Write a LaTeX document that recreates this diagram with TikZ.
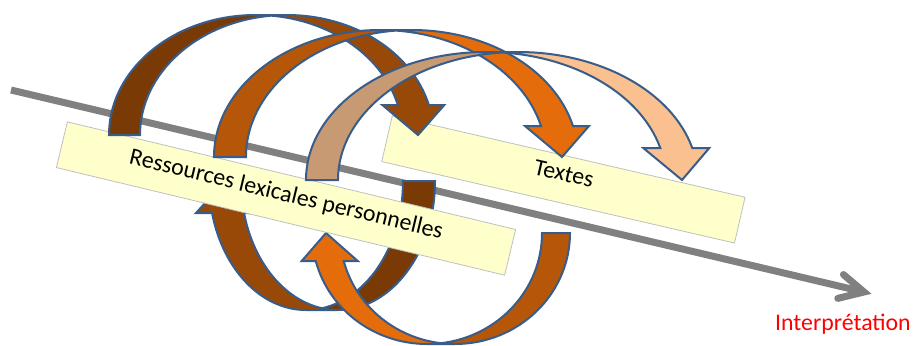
\documentclass[tikz,border=0pt]{standalone}
\usepackage{fontspec}
\setmainfont{Carlito}
\usetikzlibrary{calc}

\definecolor{ribbonline}{HTML}{385D8A}
\definecolor{brownfront}{HTML}{984807}
\definecolor{brownback}{HTML}{7A3A06}
\definecolor{orangefront}{HTML}{E46C0A}
\definecolor{orangeback}{HTML}{B65608}
\definecolor{peachfront}{HTML}{FAC090}
\definecolor{peachback}{HTML}{C89A73}
\definecolor{notefill}{HTML}{FFFFCC}
\definecolor{axisgray}{HTML}{808080}

\newcommand{\labelfont}{\fontsize{23.8bp}{28bp}\selectfont}

% Curved ribbon arrow: tail foot at the bottom left, head pointing down at
% the bottom right. The rising part is shaded darker (back of the ribbon).
% #1 placement, #2 width, #3 height, #4 band, #5 head width, #6 head length,
% #7 front colour, #8 back colour
\newcommand{\ribbonarrow}[8]{%
  \begin{scope}[#1]
    \pgfmathsetmacro{\rbR}{#2/2-(#4+#5)/4}
    \pgfmathsetmacro{\rbHa}{asin(#6/#3)}
    \pgfmathsetmacro{\rbTw}{acos(#4/(2*\rbR))}
    \pgfmathsetmacro{\rbTwB}{180-\rbTw}
    \pgfmathsetmacro{\rbXf}{\rbR+\rbR*cos(\rbHa)}
    \pgfmathsetmacro{\rbDh}{(#5-#4)/2}
    \pgfmathsetmacro{\rbYt}{#3*sin(\rbTw)}
    % front part with the head
    \fill[#7] (#2-#5/2,0) -- (\rbXf-\rbDh,#6) -- (\rbXf,#6)
      arc[start angle=\rbHa, end angle=90, x radius=\rbR, y radius=#3]
      -- (\rbR+#4,#3)
      arc[start angle=90, end angle=\rbHa, x radius=\rbR, y radius=#3]
      -- (\rbXf+#4+\rbDh,#6) -- cycle;
    % back part (rising leg)
    \fill[#8] (0,0)
      arc[start angle=180, end angle=\rbTw, x radius=\rbR, y radius=#3]
      arc[start angle=\rbTwB, end angle=180, x radius=\rbR, y radius=#3]
      -- cycle;
    % outline
    \draw[ribbon edge] (\rbR+#4/2,\rbYt)
      arc[start angle=\rbTwB, end angle=180, x radius=\rbR, y radius=#3]
      -- (0,0)
      arc[start angle=180, end angle=90, x radius=\rbR, y radius=#3]
      -- (\rbR+#4,#3)
      arc[start angle=90, end angle=\rbHa, x radius=\rbR, y radius=#3]
      -- (\rbXf+#4+\rbDh,#6) -- (#2-#5/2,0) -- (\rbXf-\rbDh,#6) -- (\rbXf,#6)
      arc[start angle=\rbHa, end angle=90, x radius=\rbR, y radius=#3];
  \end{scope}}

\begin{document}
\begin{tikzpicture}[x=1bp, y=1bp,
  ribbon edge/.style={draw=ribbonline, line width=2bp, line join=miter},
  notebox/.style={draw=gray!50, line width=0.8bp, fill=notefill,
    inner sep=0pt, minimum height=47bp},
  notetext/.style={font=\labelfont, text height=15.3bp, text depth=0bp,
    inner sep=0pt},
  timeline/.style={draw=axisgray, line width=7bp}]
\useasboundingbox (0,0) rectangle (913,-345);

% time axis
\coordinate (axisStart) at (11,-90);
\coordinate (axisEnd) at (864,-292);
\draw[timeline] (axisStart) -- (axisEnd);
\draw[timeline, line cap=round]
  ($(axisEnd)+(139.68:27)$) -- (axisEnd) -- ($(axisEnd)+(193.68:27)$);

% lower loops (turned upside down)
\ribbonarrow{shift={(435,-181)}, rotate=180}{242}{129}{32}{64}{32}{brownfront}{brownback}
\ribbonarrow{shift={(570,-233)}, rotate=180}{272}{111}{28}{56}{28}{orangefront}{orangeback}

% boxes
\node[notebox, minimum width=461bp, rotate=-13.5] (resBox) at (286,-198.5) {};
\node[notetext, rotate=-13.5] (resText) at (286.5,-194) {Ressources lexicales personnelles};
\node[notebox, minimum width=362bp, rotate=-13] (txtBox) at (563.4,-179.4) {};
\node[notetext, rotate=-13] (txtText) at (564,-173.5) {Textes};

% upper loops
\ribbonarrow{shift={(109,-135)}}{340}{120}{31}{62}{30}{brownfront}{brownback}
\ribbonarrow{shift={(214,-157)}}{380}{127}{32}{64}{31}{orangefront}{orangeback}
\ribbonarrow{shift={(306,-180)}}{409}{128}{32}{66}{32}{peachfront}{peachback}

\node[anchor=base west, font=\labelfont, text=red, inner sep=0pt] (interp)
  at (775,-330) {Interprétation};
\end{tikzpicture}
\end{document}
